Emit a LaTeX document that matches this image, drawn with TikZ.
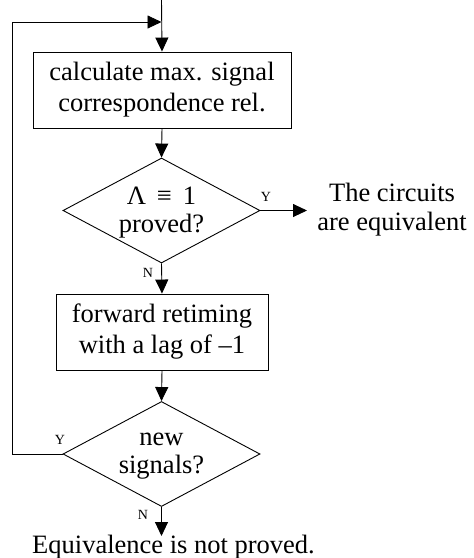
\documentclass[tikz,border=0pt]{standalone}
\usepackage{fontspec}
\setmainfont{Liberation Serif}
\usetikzlibrary{shapes.geometric,arrows.meta}
\begin{document}
\begin{tikzpicture}[x=1pt,y=-1pt,
  line width=0.9pt,
  every node/.style={font=\fontsize{26.5}{31}\selectfont},
  procbox/.style={draw,rectangle,inner sep=0pt,align=center},
  decis/.style={draw,diamond,inner sep=0pt,minimum width=197pt,minimum height=105pt},
  dtext/.style={align=center,inner sep=0pt,font=\fontsize{26.5}{28}\selectfont},
  arr/.style={-{Triangle[length=14pt,width=13pt]}},
  lbl/.style={font=\fontsize{14}{15}\selectfont,inner sep=0pt}]
\useasboundingbox (0,0) rectangle (474,558);
\coordinate (start) at (161.5,0);
\node[procbox,minimum width=258pt,minimum height=76pt] (b1) at (162,90)
  {calculate max. signal\\correspondence rel.};
\node[decis] (d1) at (161.5,210.5) {};
\node[dtext] (d1t) at (161.5,213) {Λ \,≡\, 1\\proved?};
\coordinate (yes1) at (307,210.5);
\node[align=center,inner sep=0pt,font=\fontsize{26.5}{29}\selectfont] (eq) at (392,210) {The circuits\\are equivalent};
\node[procbox,minimum width=212pt,minimum height=76pt] (b2) at (162,332)
  {forward retiming\\with a lag of –1};
\node[decis] (d2) at (161.5,454) {};
\node[dtext] (d2t) at (161.5,456) {new\\signals?};
\coordinate (lc) at (12,454);
\coordinate (tc) at (12,22);
\coordinate (jc) at (161.5,22);
\coordinate (endc) at (161.5,536);
\node[anchor=base,inner sep=0pt] (neq) at (173.5,553) {Equivalence is not proved.};
\draw[arr] (start) -- (b1.north);
\draw[arr] (b1.south) -- (d1.north);
\draw[arr] (d1.east) -- (yes1);
\draw[arr] (d1.south) -- (b2.north);
\draw[arr] (b2.south) -- (d2.north);
\draw[arr] (d2.west) -- (lc) -- (tc) -- (jc);
\draw[arr] (d2.south) -- (endc);
\node[lbl] (y1) at (266,197) {Y};
\node[lbl] (n1) at (148,273) {N};
\node[lbl] (y2) at (60,440) {Y};
\node[lbl] (n2) at (143,515) {N};
\end{tikzpicture}
\end{document}
